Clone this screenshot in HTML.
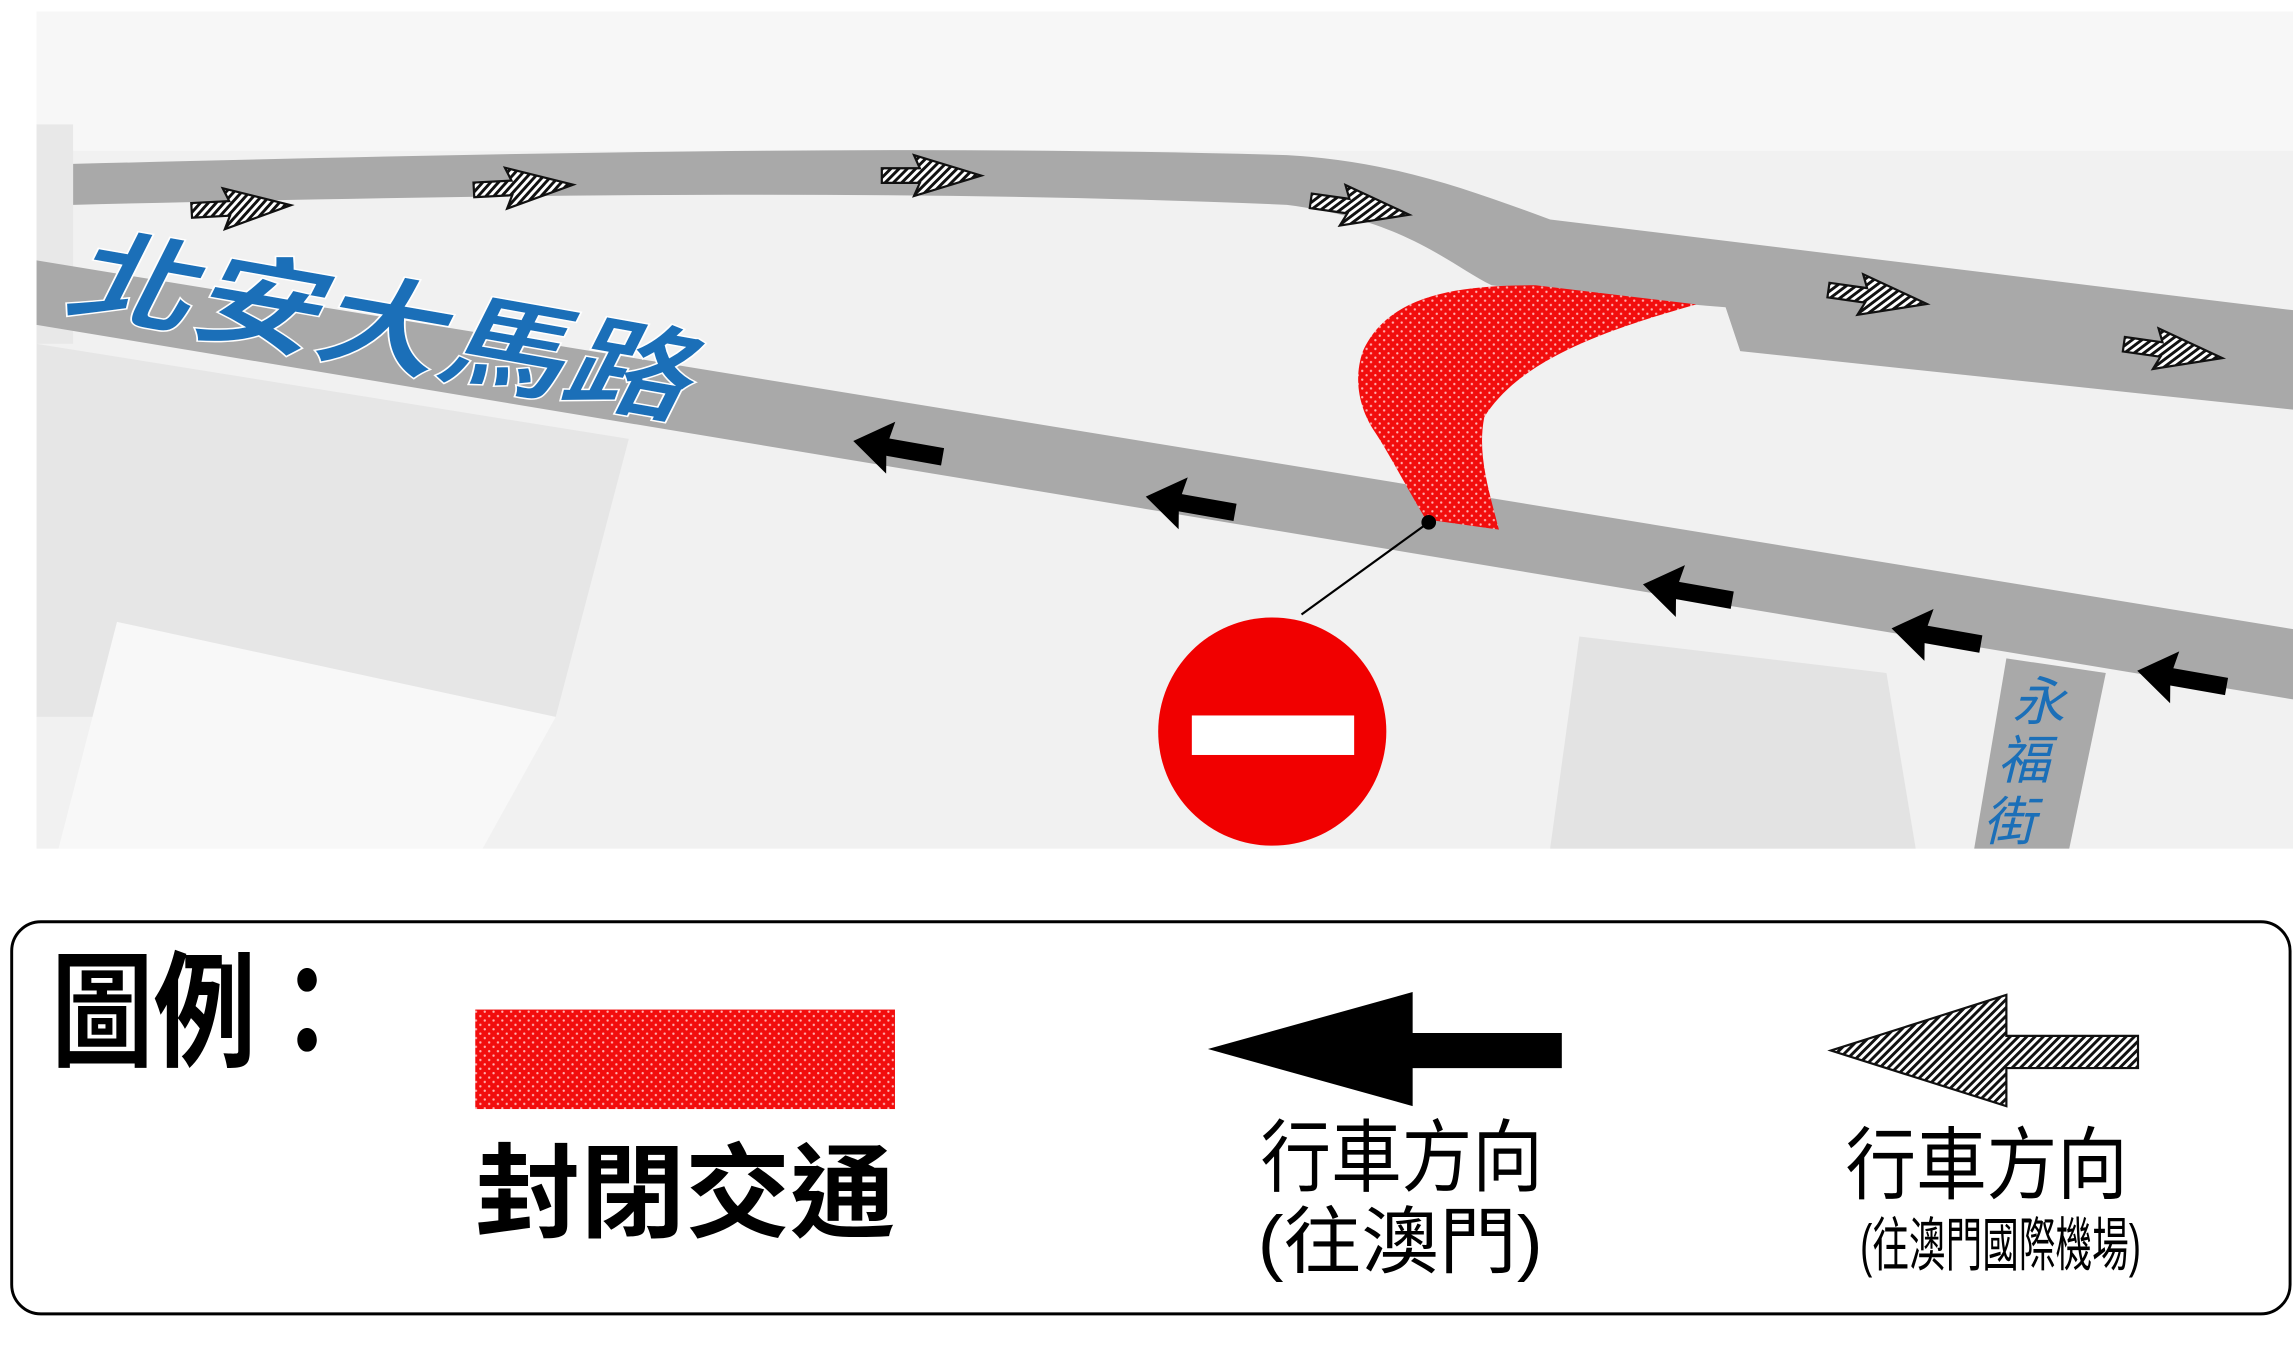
<!DOCTYPE html>
<html><head><meta charset="utf-8"><style>
html,body{margin:0;padding:0;background:#fff;}
svg{display:block;}
text{font-family:"Liberation Sans","Noto Sans CJK TC",sans-serif;}
</style></head><body>
<svg width="2293" height="1349" viewBox="0 0 1568 922" preserveAspectRatio="none" xmlns="http://www.w3.org/2000/svg">
<defs>
<pattern id="hatch" width="4" height="4" patternUnits="userSpaceOnUse" patternTransform="rotate(45)">
<rect width="4" height="4" fill="#fff"/><rect width="2" height="4" fill="#111"/>
</pattern>
<pattern id="dots" width="6" height="6" patternUnits="userSpaceOnUse">
<rect width="6" height="6" fill="#f20d0d"/><circle cx="1.5" cy="1.5" r="0.8" fill="#ffb0b0"/><circle cx="4.5" cy="4.5" r="0.8" fill="#ffb0b0"/>
</pattern>
<g id="harr"><polygon points="-34,-5 -8,-5 -12,-14 34,0 -12,14 -8,5 -34,5" fill="url(#hatch)" stroke="#111" stroke-width="1.5"/></g>
<g id="barr"><polygon points="30,-6 -8,-6 -6,-18 -32,0 -6,18 -8,6 30,6" fill="#000"/></g>
</defs>
<rect x="25" y="8" width="1543" height="572" fill="#f1f1f1"/>
<rect x="25" y="8" width="1543" height="95" fill="#f7f7f7"/>
<polygon points="25,235 430,300 380,490 25,490" fill="#e6e6e6"/>
<polygon points="80,425 380,490 330,580 40,580" fill="#f8f8f8"/>
<polygon points="1080,435 1290,460 1310,580 1060,580" fill="#e3e3e3"/>
<polygon points="25,85 50,85 50,235 25,235" fill="#e8e8e8"/>
<path d="M50,112 C300,106 600,98 880,106 C950,110 1000,128 1060,150 L1568,212 L1568,280 L1190,240 L1180,210 C1120,205 1060,200 1020,195 C990,180 960,150 880,140 C600,128 300,134 50,140 Z" fill="#a9a9a9"/>
<polygon points="25,178 1568,430 1568,478 25,222" fill="#a9a9a9"/>
<polygon points="1372,450 1440,460 1415,580 1350,580" fill="#a9a9a9"/>
<path d="M932,240 C950,200 1000,195 1050,195 L1160,208 C1100,225 1040,245 1015,285 C1010,310 1018,335 1025,362 L975,355 C960,330 950,310 940,295 C930,280 925,260 932,240 Z" fill="url(#dots)"/>
<line x1="890" y1="420" x2="977" y2="357" stroke="#000" stroke-width="1.5"/>
<circle cx="977" cy="357" r="5" fill="#000"/>
<circle cx="870" cy="500" r="78" fill="#f10000"/>
<rect x="815" y="489" width="111" height="27" fill="#fff"/>
<use href="#harr" transform="translate(165,142) rotate(-3)"/>
<use href="#harr" transform="translate(358,128) rotate(-3)"/>
<use href="#harr" transform="translate(637,120) rotate(0)"/>
<use href="#harr" transform="translate(930,142) rotate(8)"/>
<use href="#harr" transform="translate(1284,203) rotate(8)"/>
<use href="#harr" transform="translate(1486,240) rotate(8)"/>
<use href="#barr" transform="translate(615,307) rotate(10)"/>
<use href="#barr" transform="translate(815,345) rotate(10)"/>
<use href="#barr" transform="translate(1155,405) rotate(10)"/>
<use href="#barr" transform="translate(1325,435) rotate(10)"/>
<use href="#barr" transform="translate(1493,464) rotate(10)"/>
<text x="42" y="210" font-size="72" fill="#1b6fb8" font-style="italic" font-weight="bold" stroke="#fff" stroke-width="1" transform="rotate(10 42 210)" textLength="430" lengthAdjust="spacingAndGlyphs">北安大馬路</text>
<g fill="#1b6fb8" font-size="36" font-style="italic">
<text x="1376" y="492">永</text><text x="1366" y="532">福</text><text x="1356" y="574">街</text>
</g>
<rect x="8" y="630" width="1558" height="268" rx="20" fill="#fff" stroke="#000" stroke-width="2"/>
<text x="35" y="722" font-size="86" font-weight="bold" textLength="210" lengthAdjust="spacingAndGlyphs">圖例：</text>
<rect x="325" y="690" width="287" height="68" fill="url(#dots)"/>
<text x="325" y="840" font-size="70" font-weight="bold" textLength="287" lengthAdjust="spacingAndGlyphs">封閉交通</text>
<polygon points="1068,706 966,706 966,678 826,717 966,756 966,730 1068,730" fill="#000"/>
<text x="862" y="810" font-size="54" textLength="193" lengthAdjust="spacingAndGlyphs">行車方向</text>
<text x="860" y="866" font-size="50" textLength="195" lengthAdjust="spacingAndGlyphs">(往澳門)</text>
<polygon points="1462,708 1372,708 1372,680 1252,718 1372,756 1372,730 1462,730" fill="url(#hatch)" stroke="#111" stroke-width="1.5"/>
<text x="1262" y="815" font-size="54" textLength="193" lengthAdjust="spacingAndGlyphs">行車方向</text>
<text x="1272" y="865" font-size="40" textLength="192" lengthAdjust="spacingAndGlyphs">(往澳門國際機場)</text>
</svg>
</body></html>
